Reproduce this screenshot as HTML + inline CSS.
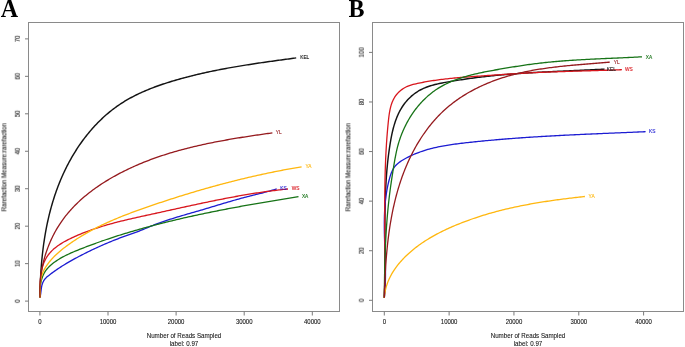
<!DOCTYPE html>
<html><head><meta charset="utf-8"><style>
html,body{margin:0;padding:0;background:#fff;width:685px;height:347px;overflow:hidden}
text{will-change:transform}
svg{display:block;will-change:transform}
.tk{font-family:"Liberation Sans",sans-serif;font-size:6.0px;fill:#111;stroke:#111;stroke-width:0.08px}
.ti{font-family:"Liberation Sans",sans-serif;font-size:6.2px;fill:#111;stroke:#111;stroke-width:0.07px}
.lb{font-family:"Liberation Sans",sans-serif;font-size:4.8px}
.pl{font-family:"Liberation Serif",serif;font-weight:bold;font-size:24px;fill:#000}
</style></head><body>
<svg width="685" height="347" viewBox="0 0 685 347">
<rect width="685" height="347" fill="#fff"/>
<text transform="translate(0.8,17.0) scale(1,1.04)" class="pl">A</text>
<text transform="translate(348.6,17.0) scale(1,1.04)" class="pl">B</text>
<rect x="28.5" y="22.5" width="311.0" height="289.0" fill="none" stroke="#8a8a8a" stroke-width="1"/>
<line x1="39.90" y1="311.5" x2="39.90" y2="315.5" stroke="#7a7a7a" stroke-width="1"/>
<text transform="translate(39.90,324.2) scale(1,1.2)" text-anchor="middle" class="tk">0</text>
<line x1="108.00" y1="311.5" x2="108.00" y2="315.5" stroke="#7a7a7a" stroke-width="1"/>
<text transform="translate(108.00,324.2) scale(1,1.2)" text-anchor="middle" class="tk">10000</text>
<line x1="176.10" y1="311.5" x2="176.10" y2="315.5" stroke="#7a7a7a" stroke-width="1"/>
<text transform="translate(176.10,324.2) scale(1,1.2)" text-anchor="middle" class="tk">20000</text>
<line x1="244.20" y1="311.5" x2="244.20" y2="315.5" stroke="#7a7a7a" stroke-width="1"/>
<text transform="translate(244.20,324.2) scale(1,1.2)" text-anchor="middle" class="tk">30000</text>
<line x1="312.30" y1="311.5" x2="312.30" y2="315.5" stroke="#7a7a7a" stroke-width="1"/>
<text transform="translate(312.30,324.2) scale(1,1.2)" text-anchor="middle" class="tk">40000</text>
<line x1="25.0" y1="301.10" x2="28.5" y2="301.10" stroke="#7a7a7a" stroke-width="1"/>
<text transform="translate(20.00,301.10) rotate(-90) scale(1,1.2)" x="0" y="0" text-anchor="middle" class="tk">0</text>
<line x1="25.0" y1="263.64" x2="28.5" y2="263.64" stroke="#7a7a7a" stroke-width="1"/>
<text transform="translate(20.00,263.64) rotate(-90) scale(1,1.2)" x="0" y="0" text-anchor="middle" class="tk">10</text>
<line x1="25.0" y1="226.18" x2="28.5" y2="226.18" stroke="#7a7a7a" stroke-width="1"/>
<text transform="translate(20.00,226.18) rotate(-90) scale(1,1.2)" x="0" y="0" text-anchor="middle" class="tk">20</text>
<line x1="25.0" y1="188.72" x2="28.5" y2="188.72" stroke="#7a7a7a" stroke-width="1"/>
<text transform="translate(20.00,188.72) rotate(-90) scale(1,1.2)" x="0" y="0" text-anchor="middle" class="tk">30</text>
<line x1="25.0" y1="151.26" x2="28.5" y2="151.26" stroke="#7a7a7a" stroke-width="1"/>
<text transform="translate(20.00,151.26) rotate(-90) scale(1,1.2)" x="0" y="0" text-anchor="middle" class="tk">40</text>
<line x1="25.0" y1="113.80" x2="28.5" y2="113.80" stroke="#7a7a7a" stroke-width="1"/>
<text transform="translate(20.00,113.80) rotate(-90) scale(1,1.2)" x="0" y="0" text-anchor="middle" class="tk">50</text>
<line x1="25.0" y1="76.34" x2="28.5" y2="76.34" stroke="#7a7a7a" stroke-width="1"/>
<text transform="translate(20.00,76.34) rotate(-90) scale(1,1.2)" x="0" y="0" text-anchor="middle" class="tk">60</text>
<line x1="25.0" y1="38.88" x2="28.5" y2="38.88" stroke="#7a7a7a" stroke-width="1"/>
<text transform="translate(20.00,38.88) rotate(-90) scale(1,1.2)" x="0" y="0" text-anchor="middle" class="tk">70</text>
<path d="M39.99 297.39 L40.00 295.88 L40.03 294.38 L40.05 292.87 L40.08 291.36 L40.12 289.85 L40.16 288.34 L40.20 286.84 L40.25 285.33 L40.30 283.82 L40.36 282.32 L40.42 280.81 L40.49 279.30 L40.56 277.80 L40.64 276.29 L40.72 274.78 L40.81 273.28 L40.90 271.77 L41.00 270.27 L41.11 268.76 L41.22 267.26 L41.33 265.76 L41.45 264.25 L41.58 262.75 L41.71 261.25 L41.85 259.75 L42.00 258.25 L42.15 256.75 L42.31 255.25 L42.47 253.75 L42.64 252.25 L42.82 250.75 L43.00 249.25 L43.19 247.76 L43.38 246.26 L43.58 244.77 L43.79 243.27 L44.01 241.78 L44.23 240.29 L44.46 238.80 L44.70 237.31 L44.94 235.82 L45.19 234.33 L45.45 232.85 L45.72 231.36 L45.99 229.88 L46.27 228.40 L46.56 226.92 L46.86 225.44 L47.16 223.96 L47.47 222.49 L47.79 221.01 L48.12 219.54 L48.46 218.07 L48.80 216.60 L49.15 215.14 L49.51 213.67 L49.88 212.21 L50.26 210.75 L50.65 209.29 L51.04 207.84 L51.44 206.38 L51.86 204.93 L52.28 203.48 L52.71 202.04 L53.15 200.60 L53.60 199.16 L54.05 197.72 L54.52 196.29 L55.00 194.85 L55.48 193.43 L55.98 192.00 L56.48 190.58 L56.99 189.16 L57.52 187.75 L58.05 186.34 L58.59 184.93 L59.15 183.53 L59.71 182.13 L60.28 180.73 L60.87 179.34 L61.46 177.96 L62.06 176.57 L62.67 175.20 L63.30 173.82 L63.93 172.45 L64.57 171.09 L65.22 169.73 L65.89 168.37 L66.56 167.02 L67.24 165.68 L67.94 164.34 L68.64 163.01 L69.36 161.68 L70.08 160.36 L70.81 159.04 L71.56 157.73 L72.31 156.42 L73.08 155.12 L73.85 153.83 L74.64 152.54 L75.44 151.26 L76.24 149.99 L77.06 148.72 L77.89 147.46 L78.73 146.21 L79.58 144.96 L80.44 143.72 L81.31 142.49 L82.19 141.26 L83.08 140.05 L83.98 138.84 L84.89 137.64 L85.81 136.44 L86.75 135.26 L87.69 134.08 L88.65 132.92 L89.61 131.76 L90.59 130.61 L91.58 129.47 L92.57 128.34 L93.58 127.22 L94.60 126.10 L95.63 125.00 L96.67 123.91 L97.72 122.83 L98.78 121.76 L99.86 120.70 L100.94 119.65 L102.03 118.61 L103.14 117.58 L104.25 116.57 L105.38 115.56 L106.51 114.57 L107.66 113.59 L108.81 112.62 L109.98 111.67 L111.16 110.72 L112.34 109.79 L113.54 108.87 L114.75 107.97 L115.96 107.08 L117.19 106.20 L118.43 105.34 L119.67 104.49 L120.93 103.66 L122.20 102.83 L123.47 102.03 L124.75 101.24 L126.05 100.46 L127.35 99.70 L128.66 98.95 L129.97 98.21 L131.30 97.49 L132.63 96.78 L133.97 96.09 L135.31 95.41 L136.66 94.74 L138.02 94.08 L139.38 93.43 L140.75 92.80 L142.13 92.18 L143.50 91.57 L144.89 90.97 L146.28 90.38 L147.67 89.80 L149.07 89.23 L150.47 88.67 L151.87 88.12 L153.28 87.58 L154.69 87.05 L156.11 86.53 L157.52 86.02 L158.95 85.51 L160.37 85.02 L161.80 84.53 L163.23 84.05 L164.66 83.58 L166.09 83.11 L167.53 82.65 L168.97 82.20 L170.41 81.75 L171.85 81.31 L173.30 80.88 L174.74 80.45 L176.19 80.03 L177.64 79.61 L179.09 79.20 L180.54 78.79 L182.00 78.39 L183.45 78.00 L184.91 77.60 L186.36 77.22 L187.82 76.83 L189.28 76.46 L190.74 76.08 L192.21 75.72 L193.67 75.35 L195.14 75.00 L196.60 74.64 L198.07 74.29 L199.54 73.95 L201.01 73.61 L202.48 73.27 L203.95 72.94 L205.42 72.61 L206.89 72.29 L208.37 71.97 L209.84 71.65 L211.32 71.34 L212.79 71.04 L214.27 70.73 L215.75 70.43 L217.23 70.14 L218.71 69.84 L220.19 69.56 L221.67 69.27 L223.15 68.99 L224.63 68.71 L226.11 68.44 L227.60 68.16 L229.08 67.90 L230.57 67.63 L232.05 67.37 L233.54 67.11 L235.02 66.85 L236.51 66.60 L238.00 66.35 L239.48 66.10 L240.97 65.85 L242.46 65.61 L243.95 65.37 L245.44 65.13 L246.93 64.89 L248.42 64.66 L249.91 64.43 L251.40 64.20 L252.89 63.97 L254.38 63.75 L255.87 63.52 L257.36 63.30 L258.86 63.08 L260.35 62.86 L261.84 62.64 L263.33 62.43 L264.83 62.21 L266.32 62.00 L267.81 61.79 L269.31 61.58 L270.80 61.37 L272.29 61.16 L273.79 60.95 L275.28 60.75 L276.77 60.54 L278.27 60.33 L279.76 60.13 L281.26 59.93 L282.75 59.72 L284.25 59.52 L285.74 59.32 L287.23 59.11 L288.73 58.91 L290.22 58.71 L291.72 58.50 L293.21 58.30 L294.71 58.10 L296.20 57.90" fill="none" stroke="#141414" stroke-width="1.45" stroke-linejoin="round" stroke-linecap="butt"/>
<path d="M39.99 297.40 L40.33 295.92 L40.58 294.42 L40.78 292.92 L40.96 291.42 L41.14 289.91 L41.33 288.41 L41.58 286.92 L41.89 285.44 L42.31 283.98 L42.85 282.56 L43.51 281.20 L44.30 279.91 L45.22 278.71 L46.25 277.60 L47.38 276.59 L48.56 275.64 L49.75 274.70 L50.95 273.78 L52.17 272.88 L53.39 271.98 L54.62 271.10 L55.86 270.23 L57.11 269.37 L58.36 268.52 L59.63 267.69 L60.90 266.86 L62.18 266.05 L63.46 265.25 L64.75 264.45 L66.05 263.67 L67.35 262.89 L68.66 262.13 L69.97 261.37 L71.28 260.62 L72.61 259.88 L73.93 259.15 L75.26 258.43 L76.60 257.71 L77.93 257.00 L79.27 256.29 L80.62 255.59 L81.96 254.90 L83.31 254.21 L84.66 253.52 L86.02 252.84 L87.37 252.17 L88.73 251.50 L90.10 250.84 L91.46 250.18 L92.83 249.53 L94.20 248.89 L95.57 248.25 L96.95 247.61 L98.32 246.98 L99.70 246.36 L101.09 245.74 L102.47 245.13 L103.86 244.52 L105.25 243.92 L106.64 243.32 L108.04 242.73 L109.44 242.15 L110.84 241.57 L112.24 241.00 L113.64 240.43 L115.05 239.87 L116.46 239.32 L117.87 238.77 L119.29 238.23 L120.70 237.69 L122.12 237.17 L123.55 236.64 L124.97 236.13 L126.40 235.62 L127.82 235.11 L129.25 234.61 L130.68 234.11 L132.11 233.61 L133.54 233.10 L134.97 232.59 L136.39 232.08 L137.81 231.56 L139.23 231.02 L140.64 230.48 L142.05 229.92 L143.45 229.35 L144.85 228.76 L146.25 228.17 L147.64 227.57 L149.03 226.98 L150.43 226.40 L151.83 225.82 L153.24 225.26 L154.65 224.71 L156.07 224.17 L157.48 223.64 L158.91 223.12 L160.33 222.60 L161.76 222.10 L163.19 221.60 L164.62 221.11 L166.06 220.63 L167.50 220.15 L168.94 219.68 L170.38 219.22 L171.82 218.76 L173.27 218.31 L174.71 217.86 L176.16 217.41 L177.61 216.97 L179.06 216.54 L180.51 216.10 L181.97 215.67 L183.42 215.25 L184.87 214.82 L186.33 214.40 L187.78 213.97 L189.24 213.55 L190.69 213.13 L192.15 212.71 L193.60 212.29 L195.06 211.87 L196.51 211.45 L197.97 211.03 L199.42 210.61 L200.88 210.19 L202.33 209.77 L203.79 209.34 L205.24 208.91 L206.69 208.48 L208.14 208.05 L209.59 207.61 L211.05 207.18 L212.50 206.74 L213.95 206.30 L215.40 205.87 L216.85 205.43 L218.30 204.99 L219.75 204.55 L221.20 204.11 L222.65 203.68 L224.10 203.24 L225.55 202.81 L227.00 202.37 L228.45 201.94 L229.91 201.52 L231.36 201.09 L232.81 200.67 L234.27 200.25 L235.72 199.83 L237.18 199.42 L238.64 199.01 L240.10 198.60 L241.56 198.20 L243.02 197.81 L244.49 197.42 L245.95 197.04 L247.42 196.66 L248.89 196.29 L250.36 195.92 L251.83 195.56 L253.30 195.19 L254.77 194.83 L256.24 194.47 L257.71 194.10 L259.18 193.74 L260.65 193.37 L262.12 193.00 L263.59 192.62 L265.05 192.24 L266.51 191.85 L267.98 191.45 L269.44 191.05 L270.90 190.64 L272.35 190.22 L273.80 189.79 L275.25 189.35 L276.70 188.90" fill="none" stroke="#1c1cd2" stroke-width="1.3" stroke-linejoin="round" stroke-linecap="butt"/>
<path d="M40.01 297.40 L40.05 295.89 L40.07 294.39 L40.09 292.88 L40.10 291.37 L40.12 289.86 L40.14 288.35 L40.16 286.84 L40.19 285.34 L40.23 283.83 L40.29 282.32 L40.37 280.81 L40.46 279.31 L40.58 277.80 L40.72 276.30 L40.89 274.80 L41.10 273.31 L41.34 271.82 L41.62 270.34 L41.95 268.87 L42.32 267.40 L42.74 265.96 L43.22 264.53 L43.75 263.11 L44.33 261.72 L44.97 260.36 L45.67 259.02 L46.42 257.71 L47.22 256.43 L48.08 255.19 L48.99 253.99 L49.95 252.83 L50.97 251.71 L52.02 250.64 L53.11 249.60 L54.25 248.60 L55.41 247.64 L56.60 246.71 L57.82 245.82 L59.06 244.96 L60.32 244.13 L61.59 243.33 L62.89 242.56 L64.20 241.80 L65.52 241.08 L66.85 240.37 L68.19 239.68 L69.54 239.00 L70.89 238.34 L72.25 237.69 L73.62 237.05 L74.99 236.43 L76.37 235.81 L77.75 235.21 L79.14 234.62 L80.53 234.03 L81.93 233.46 L83.33 232.90 L84.73 232.35 L86.14 231.81 L87.55 231.27 L88.96 230.75 L90.38 230.24 L91.80 229.73 L93.23 229.24 L94.66 228.75 L96.09 228.27 L97.52 227.80 L98.96 227.34 L100.40 226.89 L101.84 226.44 L103.28 226.00 L104.73 225.57 L106.17 225.15 L107.62 224.73 L109.07 224.32 L110.53 223.91 L111.98 223.51 L113.44 223.12 L114.90 222.74 L116.36 222.35 L117.82 221.98 L119.28 221.61 L120.74 221.24 L122.21 220.88 L123.67 220.52 L125.14 220.17 L126.60 219.82 L128.07 219.47 L129.54 219.13 L131.01 218.79 L132.48 218.45 L133.95 218.12 L135.42 217.79 L136.90 217.46 L138.37 217.13 L139.84 216.80 L141.31 216.48 L142.79 216.15 L144.26 215.83 L145.73 215.51 L147.21 215.19 L148.68 214.87 L150.16 214.54 L151.63 214.22 L153.10 213.90 L154.58 213.58 L156.05 213.26 L157.52 212.93 L159.00 212.61 L160.47 212.28 L161.94 211.96 L163.41 211.63 L164.89 211.31 L166.36 210.98 L167.83 210.66 L169.31 210.33 L170.78 210.01 L172.25 209.68 L173.72 209.36 L175.20 209.03 L176.67 208.70 L178.14 208.38 L179.62 208.06 L181.09 207.73 L182.56 207.41 L184.04 207.08 L185.51 206.76 L186.98 206.44 L188.46 206.12 L189.93 205.80 L191.40 205.48 L192.88 205.16 L194.35 204.84 L195.83 204.52 L197.30 204.20 L198.78 203.89 L200.25 203.57 L201.73 203.26 L203.20 202.95 L204.68 202.64 L206.16 202.33 L207.63 202.02 L209.11 201.71 L210.59 201.41 L212.07 201.11 L213.54 200.80 L215.02 200.50 L216.50 200.20 L217.98 199.91 L219.46 199.61 L220.94 199.32 L222.42 199.03 L223.90 198.74 L225.38 198.45 L226.86 198.17 L228.34 197.88 L229.82 197.60 L231.31 197.32 L232.79 197.05 L234.27 196.78 L235.76 196.50 L237.24 196.24 L238.72 195.97 L240.21 195.71 L241.70 195.44 L243.18 195.19 L244.67 194.93 L246.16 194.68 L247.64 194.43 L249.13 194.18 L250.62 193.94 L252.11 193.70 L253.60 193.46 L255.09 193.23 L256.58 193.00 L258.07 192.77 L259.56 192.55 L261.05 192.32 L262.55 192.11 L264.04 191.89 L265.53 191.68 L267.03 191.48 L268.52 191.28 L270.02 191.08 L271.51 190.88 L273.01 190.69 L274.51 190.50 L276.00 190.32 L277.50 190.14 L279.00 189.97 L280.50 189.80 L282.00 189.63 L283.50 189.47 L285.00 189.31 L286.50 189.16 L288.00 189.01" fill="none" stroke="#d8161d" stroke-width="1.3" stroke-linejoin="round" stroke-linecap="butt"/>
<path d="M40.01 297.40 L39.93 295.89 L39.88 294.38 L39.87 292.86 L39.90 291.35 L39.96 289.83 L40.06 288.32 L40.21 286.81 L40.40 285.31 L40.63 283.81 L40.91 282.32 L41.25 280.84 L41.65 279.38 L42.10 277.94 L42.62 276.51 L43.20 275.11 L43.86 273.75 L44.59 272.42 L45.39 271.14 L46.27 269.90 L47.22 268.72 L48.22 267.59 L49.28 266.50 L50.39 265.46 L51.53 264.47 L52.70 263.51 L53.91 262.59 L55.13 261.70 L56.38 260.84 L57.65 260.01 L58.93 259.21 L60.23 258.43 L61.55 257.67 L62.88 256.94 L64.21 256.23 L65.56 255.54 L66.92 254.87 L68.29 254.22 L69.67 253.58 L71.05 252.96 L72.44 252.35 L73.83 251.76 L75.23 251.17 L76.63 250.60 L78.03 250.03 L79.44 249.46 L80.85 248.90 L82.26 248.35 L83.67 247.80 L85.08 247.25 L86.50 246.71 L87.91 246.17 L89.33 245.63 L90.75 245.10 L92.17 244.57 L93.59 244.05 L95.02 243.53 L96.44 243.01 L97.87 242.50 L99.29 241.99 L100.72 241.49 L102.15 240.98 L103.58 240.49 L105.02 239.99 L106.45 239.50 L107.89 239.02 L109.32 238.53 L110.76 238.05 L112.20 237.58 L113.64 237.11 L115.08 236.64 L116.52 236.17 L117.97 235.71 L119.41 235.25 L120.86 234.80 L122.30 234.35 L123.75 233.90 L125.20 233.45 L126.65 233.01 L128.10 232.57 L129.55 232.14 L131.00 231.71 L132.46 231.28 L133.91 230.85 L135.37 230.43 L136.82 230.01 L138.28 229.60 L139.74 229.18 L141.20 228.77 L142.66 228.36 L144.12 227.96 L145.58 227.56 L147.04 227.16 L148.50 226.76 L149.96 226.37 L151.43 225.97 L152.89 225.59 L154.36 225.20 L155.82 224.82 L157.29 224.43 L158.76 224.06 L160.23 223.68 L161.70 223.31 L163.16 222.94 L164.63 222.57 L166.11 222.20 L167.58 221.84 L169.05 221.48 L170.52 221.12 L171.99 220.76 L173.47 220.41 L174.94 220.06 L176.41 219.71 L177.89 219.36 L179.37 219.01 L180.84 218.67 L182.32 218.33 L183.80 217.99 L185.27 217.66 L186.75 217.32 L188.23 216.99 L189.71 216.66 L191.19 216.33 L192.67 216.00 L194.15 215.68 L195.63 215.36 L197.11 215.04 L198.59 214.72 L200.07 214.40 L201.56 214.09 L203.04 213.77 L204.52 213.46 L206.00 213.15 L207.49 212.85 L208.97 212.54 L210.46 212.24 L211.94 211.93 L213.43 211.63 L214.91 211.33 L216.40 211.04 L217.89 210.74 L219.37 210.45 L220.86 210.16 L222.35 209.86 L223.83 209.58 L225.32 209.29 L226.81 209.00 L228.30 208.72 L229.79 208.43 L231.28 208.15 L232.77 207.87 L234.25 207.59 L235.74 207.32 L237.23 207.04 L238.72 206.77 L240.22 206.49 L241.71 206.22 L243.20 205.95 L244.69 205.68 L246.18 205.41 L247.67 205.15 L249.16 204.88 L250.66 204.62 L252.15 204.35 L253.64 204.09 L255.13 203.83 L256.63 203.57 L258.12 203.31 L259.61 203.05 L261.11 202.80 L262.60 202.54 L264.09 202.29 L265.59 202.04 L267.08 201.78 L268.58 201.53 L270.07 201.28 L271.57 201.03 L273.06 200.79 L274.56 200.54 L276.05 200.29 L277.55 200.05 L279.04 199.80 L280.54 199.56 L282.03 199.32 L283.53 199.07 L285.03 198.83 L286.52 198.59 L288.02 198.35 L289.52 198.11 L291.01 197.88 L292.51 197.64 L294.01 197.40 L295.50 197.17 L297.00 196.93 L298.50 196.70" fill="none" stroke="#177317" stroke-width="1.3" stroke-linejoin="round" stroke-linecap="butt"/>
<path d="M40.01 297.40 L40.05 295.89 L40.07 294.39 L40.09 292.88 L40.11 291.37 L40.13 289.86 L40.17 288.35 L40.22 286.84 L40.29 285.33 L40.39 283.83 L40.53 282.33 L40.71 280.83 L40.93 279.34 L41.21 277.85 L41.55 276.38 L41.96 274.93 L42.45 273.50 L43.00 272.10 L43.63 270.73 L44.31 269.38 L45.05 268.07 L45.84 266.78 L46.67 265.52 L47.54 264.28 L48.44 263.07 L49.37 261.89 L50.33 260.72 L51.32 259.58 L52.33 258.46 L53.37 257.37 L54.43 256.29 L55.50 255.24 L56.60 254.20 L57.72 253.18 L58.85 252.19 L60.00 251.20 L61.16 250.24 L62.33 249.29 L63.51 248.35 L64.71 247.43 L65.91 246.52 L67.12 245.62 L68.34 244.73 L69.57 243.86 L70.80 242.99 L72.04 242.13 L73.29 241.28 L74.55 240.44 L75.81 239.61 L77.08 238.80 L78.35 237.99 L79.63 237.19 L80.91 236.40 L82.21 235.62 L83.50 234.85 L84.81 234.08 L86.11 233.33 L87.43 232.59 L88.74 231.85 L90.07 231.12 L91.39 230.41 L92.73 229.70 L94.06 229.00 L95.40 228.30 L96.75 227.62 L98.10 226.94 L99.45 226.27 L100.81 225.61 L102.17 224.96 L103.53 224.31 L104.90 223.67 L106.27 223.04 L107.64 222.42 L109.02 221.80 L110.40 221.19 L111.78 220.59 L113.17 219.99 L114.55 219.39 L115.94 218.81 L117.34 218.23 L118.73 217.65 L120.13 217.09 L121.53 216.52 L122.93 215.96 L124.34 215.41 L125.74 214.86 L127.15 214.32 L128.56 213.78 L129.97 213.24 L131.38 212.71 L132.80 212.19 L134.21 211.66 L135.63 211.14 L137.05 210.63 L138.47 210.12 L139.89 209.61 L141.31 209.10 L142.73 208.60 L144.15 208.10 L145.58 207.60 L147.00 207.10 L148.43 206.61 L149.86 206.12 L151.28 205.63 L152.71 205.14 L154.14 204.66 L155.57 204.17 L157.00 203.69 L158.43 203.21 L159.86 202.73 L161.29 202.26 L162.73 201.78 L164.16 201.31 L165.59 200.84 L167.03 200.37 L168.46 199.90 L169.90 199.44 L171.33 198.97 L172.77 198.51 L174.21 198.05 L175.65 197.60 L177.08 197.14 L178.52 196.69 L179.96 196.24 L181.40 195.79 L182.85 195.34 L184.29 194.89 L185.73 194.45 L187.17 194.01 L188.62 193.57 L190.06 193.14 L191.51 192.70 L192.95 192.27 L194.40 191.84 L195.85 191.41 L197.29 190.98 L198.74 190.56 L200.19 190.14 L201.64 189.72 L203.09 189.30 L204.54 188.88 L205.99 188.47 L207.44 188.06 L208.90 187.65 L210.35 187.25 L211.80 186.84 L213.26 186.44 L214.71 186.04 L216.17 185.64 L217.62 185.25 L219.08 184.85 L220.54 184.46 L222.00 184.07 L223.46 183.69 L224.92 183.30 L226.38 182.92 L227.84 182.54 L229.30 182.17 L230.76 181.79 L232.22 181.42 L233.68 181.05 L235.15 180.68 L236.61 180.32 L238.08 179.96 L239.54 179.60 L241.01 179.24 L242.48 178.88 L243.94 178.53 L245.41 178.18 L246.88 177.83 L248.35 177.49 L249.82 177.15 L251.29 176.81 L252.76 176.47 L254.23 176.13 L255.70 175.80 L257.17 175.47 L258.65 175.14 L260.12 174.82 L261.60 174.50 L263.07 174.18 L264.55 173.86 L266.02 173.55 L267.50 173.23 L268.97 172.93 L270.45 172.62 L271.93 172.32 L273.41 172.01 L274.89 171.72 L276.37 171.42 L277.85 171.13 L279.33 170.84 L280.81 170.55 L282.29 170.26 L283.77 169.98 L285.26 169.70 L286.74 169.43 L288.22 169.15 L289.71 168.88 L291.19 168.61 L292.68 168.35 L294.17 168.08 L295.65 167.82 L297.14 167.57 L298.63 167.31 L300.11 167.06 L301.60 166.81" fill="none" stroke="#ffb70f" stroke-width="1.3" stroke-linejoin="round" stroke-linecap="butt"/>
<path d="M40.01 297.40 L39.95 295.89 L39.90 294.38 L39.87 292.88 L39.86 291.37 L39.87 289.86 L39.90 288.35 L39.94 286.84 L40.01 285.33 L40.09 283.83 L40.20 282.32 L40.32 280.82 L40.46 279.32 L40.62 277.82 L40.79 276.32 L40.99 274.82 L41.20 273.33 L41.43 271.84 L41.68 270.35 L41.95 268.86 L42.23 267.38 L42.53 265.90 L42.85 264.43 L43.19 262.96 L43.55 261.49 L43.92 260.03 L44.31 258.57 L44.72 257.12 L45.14 255.67 L45.58 254.23 L46.04 252.79 L46.52 251.36 L47.02 249.94 L47.53 248.52 L48.06 247.11 L48.60 245.70 L49.17 244.30 L49.75 242.91 L50.34 241.52 L50.96 240.14 L51.59 238.77 L52.24 237.41 L52.90 236.06 L53.59 234.71 L54.29 233.37 L55.00 232.05 L55.73 230.73 L56.48 229.42 L57.25 228.12 L58.03 226.83 L58.84 225.55 L59.65 224.28 L60.49 223.03 L61.34 221.78 L62.20 220.54 L63.09 219.32 L63.99 218.11 L64.90 216.91 L65.83 215.72 L66.78 214.55 L67.74 213.38 L68.71 212.23 L69.70 211.09 L70.70 209.96 L71.71 208.85 L72.74 207.74 L73.78 206.65 L74.84 205.57 L75.90 204.50 L76.98 203.44 L78.06 202.40 L79.16 201.36 L80.27 200.34 L81.39 199.33 L82.52 198.33 L83.66 197.34 L84.82 196.37 L85.97 195.40 L87.14 194.45 L88.32 193.51 L89.51 192.57 L90.70 191.65 L91.91 190.74 L93.12 189.84 L94.34 188.95 L95.56 188.07 L96.79 187.20 L98.04 186.35 L99.28 185.50 L100.54 184.66 L101.80 183.83 L103.06 183.01 L104.34 182.20 L105.62 181.40 L106.90 180.61 L108.19 179.83 L109.49 179.06 L110.79 178.29 L112.10 177.54 L113.41 176.80 L114.73 176.06 L116.05 175.33 L117.37 174.61 L118.70 173.90 L120.04 173.20 L121.38 172.50 L122.72 171.81 L124.07 171.14 L125.42 170.47 L126.78 169.80 L128.14 169.15 L129.50 168.50 L130.87 167.87 L132.24 167.23 L133.61 166.61 L134.99 166.00 L136.37 165.39 L137.75 164.79 L139.14 164.20 L140.53 163.62 L141.93 163.04 L143.32 162.47 L144.72 161.91 L146.13 161.35 L147.53 160.81 L148.94 160.27 L150.35 159.73 L151.77 159.21 L153.19 158.69 L154.60 158.18 L156.03 157.67 L157.45 157.17 L158.88 156.68 L160.31 156.20 L161.74 155.72 L163.17 155.25 L164.60 154.78 L166.04 154.32 L167.48 153.87 L168.92 153.42 L170.36 152.98 L171.81 152.55 L173.26 152.12 L174.70 151.70 L176.15 151.28 L177.61 150.87 L179.06 150.46 L180.51 150.06 L181.97 149.67 L183.43 149.28 L184.89 148.90 L186.35 148.52 L187.81 148.14 L189.27 147.78 L190.74 147.41 L192.20 147.05 L193.67 146.70 L195.14 146.35 L196.61 146.01 L198.08 145.67 L199.55 145.34 L201.02 145.01 L202.49 144.68 L203.97 144.36 L205.44 144.04 L206.92 143.73 L208.39 143.42 L209.87 143.11 L211.35 142.81 L212.83 142.52 L214.31 142.22 L215.79 141.93 L217.27 141.65 L218.75 141.36 L220.24 141.09 L221.72 140.81 L223.20 140.54 L224.69 140.27 L226.17 140.00 L227.66 139.74 L229.14 139.48 L230.63 139.22 L232.12 138.97 L233.61 138.72 L235.09 138.47 L236.58 138.22 L238.07 137.98 L239.56 137.74 L241.05 137.50 L242.54 137.26 L244.03 137.02 L245.52 136.79 L247.01 136.56 L248.50 136.33 L250.00 136.11 L251.49 135.88 L252.98 135.66 L254.47 135.44 L255.96 135.22 L257.46 135.00 L258.95 134.78 L260.44 134.57 L261.94 134.35 L263.43 134.14 L264.92 133.93 L266.42 133.72 L267.91 133.51 L269.41 133.30 L270.90 133.09 L272.40 132.88" fill="none" stroke="#951a1e" stroke-width="1.3" stroke-linejoin="round" stroke-linecap="butt"/>
<text x="300.20" y="59.00" class="lb" fill="#141414" stroke="#141414" stroke-width="0.12">KEL</text>
<text x="275.80" y="134.00" class="lb" fill="#951a1e" stroke="#951a1e" stroke-width="0.12">YL</text>
<text x="305.50" y="167.60" class="lb" fill="#ffb70f" stroke="#ffb70f" stroke-width="0.12">YA</text>
<text x="280.30" y="189.70" class="lb" fill="#1c1cd2" stroke="#1c1cd2" stroke-width="0.12">KS</text>
<text x="291.80" y="189.90" class="lb" fill="#d8161d" stroke="#d8161d" stroke-width="0.12">WS</text>
<text x="301.90" y="197.60" class="lb" fill="#177317" stroke="#177317" stroke-width="0.12">XA</text>
<text transform="translate(184.00,338.3) scale(1,1.1)" text-anchor="middle" class="ti">Number of Reads Sampled</text>
<text transform="translate(184.00,345.7) scale(1,1.1)" text-anchor="middle" class="ti">label: 0.97</text>
<text transform="translate(6.30,167.30) rotate(-90) scale(1,1.15)" text-anchor="middle" class="ti">Rarefaction Measure:rarefaction</text>
<rect x="372.5" y="22.5" width="311.0" height="289.0" fill="none" stroke="#8a8a8a" stroke-width="1"/>
<line x1="384.30" y1="311.5" x2="384.30" y2="315.5" stroke="#7a7a7a" stroke-width="1"/>
<text transform="translate(384.30,324.2) scale(1,1.2)" text-anchor="middle" class="tk">0</text>
<line x1="449.12" y1="311.5" x2="449.12" y2="315.5" stroke="#7a7a7a" stroke-width="1"/>
<text transform="translate(449.12,324.2) scale(1,1.2)" text-anchor="middle" class="tk">10000</text>
<line x1="513.95" y1="311.5" x2="513.95" y2="315.5" stroke="#7a7a7a" stroke-width="1"/>
<text transform="translate(513.95,324.2) scale(1,1.2)" text-anchor="middle" class="tk">20000</text>
<line x1="578.78" y1="311.5" x2="578.78" y2="315.5" stroke="#7a7a7a" stroke-width="1"/>
<text transform="translate(578.78,324.2) scale(1,1.2)" text-anchor="middle" class="tk">30000</text>
<line x1="643.60" y1="311.5" x2="643.60" y2="315.5" stroke="#7a7a7a" stroke-width="1"/>
<text transform="translate(643.60,324.2) scale(1,1.2)" text-anchor="middle" class="tk">40000</text>
<line x1="369.0" y1="300.30" x2="372.5" y2="300.30" stroke="#7a7a7a" stroke-width="1"/>
<text transform="translate(364.00,300.30) rotate(-90) scale(1,1.2)" x="0" y="0" text-anchor="middle" class="tk">0</text>
<line x1="369.0" y1="250.72" x2="372.5" y2="250.72" stroke="#7a7a7a" stroke-width="1"/>
<text transform="translate(364.00,250.72) rotate(-90) scale(1,1.2)" x="0" y="0" text-anchor="middle" class="tk">20</text>
<line x1="369.0" y1="201.14" x2="372.5" y2="201.14" stroke="#7a7a7a" stroke-width="1"/>
<text transform="translate(364.00,201.14) rotate(-90) scale(1,1.2)" x="0" y="0" text-anchor="middle" class="tk">40</text>
<line x1="369.0" y1="151.56" x2="372.5" y2="151.56" stroke="#7a7a7a" stroke-width="1"/>
<text transform="translate(364.00,151.56) rotate(-90) scale(1,1.2)" x="0" y="0" text-anchor="middle" class="tk">60</text>
<line x1="369.0" y1="101.98" x2="372.5" y2="101.98" stroke="#7a7a7a" stroke-width="1"/>
<text transform="translate(364.00,101.98) rotate(-90) scale(1,1.2)" x="0" y="0" text-anchor="middle" class="tk">80</text>
<line x1="369.0" y1="52.40" x2="372.5" y2="52.40" stroke="#7a7a7a" stroke-width="1"/>
<text transform="translate(364.00,52.40) rotate(-90) scale(1,1.2)" x="0" y="0" text-anchor="middle" class="tk">100</text>
<path d="M384.30 297.80 L384.36 296.29 L384.42 294.78 L384.48 293.27 L384.53 291.77 L384.58 290.26 L384.63 288.75 L384.67 287.24 L384.71 285.73 L384.74 284.22 L384.78 282.71 L384.81 281.20 L384.84 279.69 L384.86 278.18 L384.88 276.67 L384.90 275.16 L384.92 273.65 L384.94 272.14 L384.95 270.63 L384.96 269.12 L384.97 267.61 L384.98 266.10 L384.98 264.59 L384.99 263.08 L384.99 261.57 L384.99 260.06 L384.99 258.56 L384.99 257.05 L384.99 255.54 L384.99 254.03 L384.99 252.52 L384.98 251.01 L384.98 249.50 L384.98 247.99 L384.97 246.48 L384.97 244.97 L384.96 243.46 L384.96 241.95 L384.95 240.44 L384.95 238.93 L384.94 237.42 L384.94 235.91 L384.93 234.40 L384.93 232.89 L384.93 231.38 L384.93 229.87 L384.93 228.36 L384.93 226.85 L384.93 225.34 L384.94 223.83 L384.94 222.32 L384.95 220.81 L384.96 219.30 L384.97 217.79 L384.98 216.28 L385.00 214.77 L385.02 213.26 L385.04 211.75 L385.06 210.24 L385.08 208.73 L385.11 207.22 L385.14 205.71 L385.17 204.20 L385.21 202.70 L385.24 201.19 L385.29 199.68 L385.33 198.17 L385.38 196.66 L385.43 195.15 L385.49 193.64 L385.55 192.13 L385.61 190.62 L385.68 189.12 L385.75 187.61 L385.82 186.10 L385.90 184.59 L385.99 183.08 L386.08 181.58 L386.17 180.07 L386.27 178.56 L386.37 177.06 L386.48 175.55 L386.59 174.05 L386.71 172.54 L386.83 171.04 L386.96 169.53 L387.10 168.03 L387.24 166.53 L387.38 165.02 L387.53 163.52 L387.69 162.02 L387.85 160.52 L388.02 159.02 L388.20 157.52 L388.38 156.02 L388.57 154.52 L388.77 153.02 L388.97 151.53 L389.18 150.03 L389.39 148.54 L389.61 147.04 L389.84 145.55 L390.08 144.06 L390.32 142.57 L390.58 141.08 L390.84 139.60 L391.11 138.11 L391.40 136.63 L391.70 135.15 L392.01 133.67 L392.34 132.20 L392.68 130.73 L393.04 129.26 L393.42 127.80 L393.82 126.35 L394.25 124.90 L394.69 123.45 L395.15 122.02 L395.64 120.59 L396.15 119.17 L396.69 117.76 L397.26 116.36 L397.86 114.97 L398.48 113.60 L399.14 112.24 L399.84 110.90 L400.57 109.58 L401.33 108.28 L402.14 107.00 L402.97 105.74 L403.85 104.51 L404.76 103.30 L405.70 102.12 L406.67 100.97 L407.68 99.85 L408.72 98.76 L409.80 97.69 L410.90 96.67 L412.04 95.67 L413.20 94.71 L414.39 93.78 L415.62 92.90 L416.87 92.05 L418.14 91.24 L419.44 90.48 L420.77 89.76 L422.12 89.08 L423.49 88.44 L424.87 87.84 L426.27 87.28 L427.69 86.75 L429.11 86.26 L430.55 85.79 L432.00 85.36 L433.45 84.95 L434.91 84.57 L436.38 84.20 L437.85 83.86 L439.32 83.54 L440.80 83.23 L442.28 82.93 L443.76 82.65 L445.25 82.37 L446.73 82.11 L448.22 81.85 L449.71 81.59 L451.20 81.34 L452.68 81.09 L454.17 80.84 L455.66 80.60 L457.16 80.36 L458.65 80.12 L460.14 79.89 L461.63 79.66 L463.12 79.44 L464.62 79.22 L466.11 79.00 L467.61 78.79 L469.10 78.58 L470.60 78.37 L472.09 78.17 L473.59 77.97 L475.09 77.78 L476.58 77.58 L478.08 77.39 L479.58 77.21 L481.08 77.03 L482.58 76.85 L484.08 76.68 L485.58 76.51 L487.08 76.34 L488.58 76.17 L490.08 76.01 L491.58 75.86 L493.08 75.70 L494.59 75.55 L496.09 75.40 L497.59 75.26 L499.10 75.12 L500.60 74.98 L502.10 74.84 L503.61 74.71 L505.11 74.58 L506.62 74.46 L508.12 74.33 L509.62 74.21 L511.13 74.09 L512.64 73.97 L514.14 73.86 L515.65 73.75 L517.15 73.64 L518.66 73.53 L520.16 73.43 L521.67 73.33 L523.18 73.23 L524.68 73.13 L526.19 73.03 L527.70 72.94 L529.20 72.84 L530.71 72.75 L532.22 72.66 L533.73 72.57 L535.23 72.49 L536.74 72.40 L538.25 72.32 L539.76 72.24 L541.26 72.16 L542.77 72.08 L544.28 72.00 L545.79 71.92 L547.29 71.85 L548.80 71.77 L550.31 71.70 L551.82 71.62 L553.33 71.55 L554.83 71.48 L556.34 71.41 L557.85 71.34 L559.36 71.27 L560.87 71.20 L562.37 71.13 L563.88 71.06 L565.39 70.99 L566.90 70.92 L568.41 70.85 L569.92 70.78 L571.42 70.72 L572.93 70.65 L574.44 70.58 L575.95 70.51 L577.46 70.44 L578.97 70.37 L580.47 70.30 L581.98 70.23 L583.49 70.16 L585.00 70.09 L586.51 70.02 L588.01 69.95 L589.52 69.88 L591.03 69.81 L592.54 69.73 L594.05 69.66 L595.55 69.58 L597.06 69.50 L598.57 69.42 L600.08 69.35 L601.58 69.26 L603.09 69.18 L604.60 69.10" fill="none" stroke="#141414" stroke-width="1.45" stroke-linejoin="round" stroke-linecap="butt"/>
<path d="M384.30 297.80 L384.46 296.30 L384.60 294.80 L384.73 293.29 L384.85 291.79 L384.96 290.28 L385.05 288.78 L385.14 287.27 L385.21 285.76 L385.27 284.26 L385.33 282.75 L385.37 281.24 L385.41 279.73 L385.44 278.22 L385.46 276.71 L385.47 275.20 L385.47 273.70 L385.47 272.19 L385.46 270.68 L385.45 269.17 L385.43 267.66 L385.40 266.15 L385.37 264.64 L385.34 263.13 L385.30 261.62 L385.26 260.12 L385.21 258.61 L385.17 257.10 L385.12 255.59 L385.07 254.08 L385.02 252.57 L384.96 251.07 L384.91 249.56 L384.86 248.05 L384.80 246.54 L384.75 245.03 L384.70 243.53 L384.65 242.02 L384.60 240.51 L384.56 239.00 L384.51 237.49 L384.47 235.98 L384.44 234.48 L384.40 232.97 L384.38 231.46 L384.35 229.95 L384.34 228.44 L384.32 226.93 L384.32 225.42 L384.32 223.91 L384.32 222.40 L384.34 220.90 L384.36 219.39 L384.39 217.88 L384.43 216.37 L384.48 214.86 L384.54 213.35 L384.60 211.85 L384.68 210.34 L384.77 208.83 L384.87 207.33 L384.98 205.82 L385.10 204.32 L385.23 202.81 L385.38 201.31 L385.54 199.81 L385.72 198.31 L385.90 196.82 L386.11 195.32 L386.32 193.83 L386.55 192.34 L386.80 190.85 L387.06 189.36 L387.34 187.88 L387.64 186.40 L387.95 184.92 L388.28 183.45 L388.62 181.98 L388.99 180.51 L389.37 179.05 L389.77 177.60 L390.20 176.15 L390.67 174.72 L391.18 173.30 L391.75 171.90 L392.38 170.53 L393.08 169.19 L393.86 167.90 L394.73 166.67 L395.70 165.51 L396.75 164.43 L397.88 163.43 L399.07 162.50 L400.30 161.63 L401.56 160.81 L402.85 160.01 L404.15 159.25 L405.46 158.51 L406.79 157.79 L408.13 157.09 L409.48 156.41 L410.84 155.76 L412.21 155.12 L413.59 154.51 L414.97 153.92 L416.37 153.35 L417.78 152.80 L419.19 152.27 L420.61 151.76 L422.04 151.27 L423.47 150.80 L424.91 150.34 L426.35 149.90 L427.80 149.48 L429.25 149.08 L430.71 148.69 L432.17 148.32 L433.64 147.96 L435.11 147.61 L436.58 147.28 L438.06 146.96 L439.54 146.66 L441.02 146.37 L442.50 146.09 L443.98 145.82 L445.47 145.56 L446.96 145.31 L448.45 145.07 L449.94 144.83 L451.43 144.61 L452.92 144.39 L454.42 144.19 L455.91 143.99 L457.41 143.79 L458.91 143.60 L460.41 143.42 L461.90 143.24 L463.40 143.06 L464.90 142.89 L466.40 142.72 L467.90 142.56 L469.40 142.39 L470.90 142.23 L472.40 142.07 L473.90 141.91 L475.41 141.76 L476.91 141.61 L478.41 141.45 L479.91 141.30 L481.41 141.15 L482.91 141.01 L484.41 140.86 L485.92 140.72 L487.42 140.58 L488.92 140.44 L490.42 140.30 L491.93 140.17 L493.43 140.03 L494.93 139.90 L496.44 139.77 L497.94 139.64 L499.44 139.51 L500.95 139.38 L502.45 139.26 L503.96 139.14 L505.46 139.01 L506.96 138.89 L508.47 138.77 L509.97 138.66 L511.48 138.54 L512.98 138.43 L514.49 138.31 L515.99 138.20 L517.50 138.09 L519.00 137.98 L520.51 137.88 L522.01 137.77 L523.52 137.67 L525.02 137.56 L526.53 137.46 L528.04 137.36 L529.54 137.26 L531.05 137.16 L532.55 137.06 L534.06 136.97 L535.56 136.87 L537.07 136.78 L538.58 136.69 L540.08 136.59 L541.59 136.50 L543.10 136.41 L544.60 136.33 L546.11 136.24 L547.62 136.15 L549.12 136.07 L550.63 135.98 L552.14 135.90 L553.64 135.82 L555.15 135.73 L556.66 135.65 L558.16 135.57 L559.67 135.49 L561.18 135.42 L562.68 135.34 L564.19 135.26 L565.70 135.19 L567.21 135.11 L568.71 135.04 L570.22 134.96 L571.73 134.89 L573.23 134.82 L574.74 134.74 L576.25 134.67 L577.76 134.60 L579.26 134.53 L580.77 134.46 L582.28 134.39 L583.79 134.32 L585.29 134.26 L586.80 134.19 L588.31 134.12 L589.82 134.05 L591.32 133.99 L592.83 133.92 L594.34 133.86 L595.85 133.79 L597.35 133.73 L598.86 133.66 L600.37 133.60 L601.88 133.53 L603.39 133.47 L604.89 133.41 L606.40 133.34 L607.91 133.28 L609.42 133.22 L610.92 133.15 L612.43 133.09 L613.94 133.03 L615.45 132.97 L616.95 132.90 L618.46 132.84 L619.97 132.78 L621.48 132.72 L622.99 132.65 L624.49 132.59 L626.00 132.53 L627.51 132.47 L629.02 132.40 L630.52 132.34 L632.03 132.28 L633.54 132.21 L635.05 132.15 L636.56 132.09 L638.06 132.02 L639.57 131.96 L641.08 131.90 L642.59 131.83 L644.09 131.77 L645.60 131.70" fill="none" stroke="#1c1cd2" stroke-width="1.3" stroke-linejoin="round" stroke-linecap="butt"/>
<path d="M384.30 297.80 L384.35 296.29 L384.39 294.79 L384.43 293.28 L384.47 291.77 L384.51 290.26 L384.54 288.76 L384.57 287.25 L384.61 285.74 L384.63 284.23 L384.66 282.73 L384.68 281.22 L384.71 279.71 L384.73 278.20 L384.75 276.69 L384.76 275.19 L384.78 273.68 L384.79 272.17 L384.81 270.66 L384.82 269.15 L384.83 267.65 L384.84 266.14 L384.84 264.63 L384.85 263.12 L384.85 261.61 L384.86 260.11 L384.86 258.60 L384.86 257.09 L384.86 255.58 L384.86 254.08 L384.86 252.57 L384.86 251.06 L384.86 249.55 L384.85 248.04 L384.85 246.54 L384.84 245.03 L384.84 243.52 L384.83 242.01 L384.83 240.50 L384.82 239.00 L384.82 237.49 L384.81 235.98 L384.80 234.47 L384.80 232.96 L384.79 231.46 L384.78 229.95 L384.78 228.44 L384.77 226.93 L384.76 225.42 L384.76 223.92 L384.75 222.41 L384.75 220.90 L384.74 219.39 L384.74 217.88 L384.74 216.38 L384.73 214.87 L384.73 213.36 L384.73 211.85 L384.73 210.34 L384.73 208.84 L384.73 207.33 L384.74 205.82 L384.74 204.31 L384.75 202.80 L384.75 201.30 L384.76 199.79 L384.77 198.28 L384.78 196.77 L384.79 195.26 L384.80 193.76 L384.82 192.25 L384.84 190.74 L384.85 189.23 L384.87 187.73 L384.90 186.22 L384.92 184.71 L384.95 183.20 L384.97 181.69 L385.00 180.19 L385.03 178.68 L385.07 177.17 L385.10 175.66 L385.14 174.16 L385.18 172.65 L385.23 171.14 L385.27 169.63 L385.32 168.13 L385.37 166.62 L385.42 165.11 L385.48 163.61 L385.54 162.10 L385.60 160.59 L385.66 159.09 L385.73 157.58 L385.80 156.07 L385.87 154.57 L385.95 153.06 L386.03 151.56 L386.11 150.05 L386.20 148.54 L386.29 147.04 L386.38 145.53 L386.47 144.03 L386.57 142.52 L386.68 141.02 L386.78 139.52 L386.89 138.01 L387.00 136.51 L387.12 135.00 L387.24 133.50 L387.37 132.00 L387.49 130.50 L387.63 128.99 L387.76 127.49 L387.90 125.99 L388.05 124.49 L388.19 122.99 L388.35 121.49 L388.50 119.99 L388.67 118.49 L388.84 116.99 L389.04 115.50 L389.25 114.00 L389.48 112.51 L389.75 111.03 L390.04 109.55 L390.37 108.08 L390.74 106.62 L391.16 105.17 L391.63 103.73 L392.15 102.32 L392.73 100.93 L393.37 99.57 L394.08 98.24 L394.86 96.94 L395.71 95.70 L396.63 94.50 L397.61 93.36 L398.66 92.27 L399.76 91.24 L400.91 90.27 L402.11 89.36 L403.36 88.51 L404.65 87.73 L405.98 87.02 L407.34 86.38 L408.74 85.82 L410.17 85.32 L411.61 84.88 L413.06 84.49 L414.53 84.13 L416.00 83.79 L417.47 83.46 L418.95 83.15 L420.42 82.84 L421.90 82.55 L423.38 82.26 L424.86 81.98 L426.35 81.72 L427.83 81.46 L429.32 81.21 L430.81 80.96 L432.30 80.73 L433.79 80.50 L435.28 80.28 L436.77 80.07 L438.27 79.87 L439.76 79.67 L441.26 79.48 L442.76 79.30 L444.25 79.12 L445.75 78.94 L447.25 78.78 L448.75 78.62 L450.25 78.46 L451.75 78.31 L453.25 78.16 L454.75 78.02 L456.25 77.88 L457.76 77.75 L459.26 77.62 L460.76 77.49 L462.26 77.37 L463.77 77.25 L465.27 77.13 L466.77 77.01 L468.28 76.90 L469.78 76.79 L471.28 76.68 L472.79 76.57 L474.29 76.46 L475.80 76.36 L477.30 76.25 L478.81 76.15 L480.31 76.04 L481.81 75.94 L483.32 75.83 L484.82 75.72 L486.33 75.62 L487.83 75.51 L489.34 75.41 L490.84 75.30 L492.34 75.20 L493.85 75.09 L495.35 74.99 L496.86 74.88 L498.36 74.78 L499.87 74.68 L501.37 74.58 L502.87 74.48 L504.38 74.37 L505.88 74.28 L507.39 74.18 L508.89 74.08 L510.40 73.98 L511.90 73.89 L513.41 73.79 L514.91 73.70 L516.42 73.61 L517.92 73.52 L519.43 73.43 L520.94 73.35 L522.44 73.26 L523.95 73.18 L525.45 73.10 L526.96 73.02 L528.46 72.94 L529.97 72.86 L531.48 72.79 L532.98 72.72 L534.49 72.65 L536.00 72.58 L537.50 72.51 L539.01 72.44 L540.51 72.38 L542.02 72.32 L543.53 72.25 L545.03 72.19 L546.54 72.13 L548.05 72.07 L549.56 72.02 L551.06 71.96 L552.57 71.91 L554.08 71.85 L555.58 71.80 L557.09 71.75 L558.60 71.69 L560.10 71.64 L561.61 71.59 L563.12 71.54 L564.63 71.50 L566.13 71.45 L567.64 71.40 L569.15 71.35 L570.65 71.31 L572.16 71.26 L573.67 71.22 L575.18 71.17 L576.68 71.13 L578.19 71.08 L579.70 71.04 L581.21 70.99 L582.71 70.95 L584.22 70.90 L585.73 70.86 L587.24 70.82 L588.74 70.77 L590.25 70.73 L591.76 70.69 L593.26 70.64 L594.77 70.60 L596.28 70.55 L597.79 70.51 L599.29 70.46 L600.80 70.41 L602.31 70.37 L603.82 70.32 L605.32 70.27 L606.83 70.23 L608.34 70.18 L609.84 70.13 L611.35 70.08 L612.86 70.03 L614.37 69.97 L615.87 69.92 L617.38 69.87 L618.89 69.81 L620.39 69.76 L621.90 69.70" fill="none" stroke="#d8161d" stroke-width="1.3" stroke-linejoin="round" stroke-linecap="butt"/>
<path d="M384.30 297.80 L384.31 296.29 L384.33 294.79 L384.34 293.28 L384.36 291.77 L384.37 290.26 L384.39 288.76 L384.41 287.25 L384.42 285.74 L384.44 284.24 L384.46 282.73 L384.49 281.22 L384.51 279.71 L384.53 278.21 L384.56 276.70 L384.59 275.19 L384.61 273.69 L384.64 272.18 L384.67 270.67 L384.71 269.16 L384.74 267.66 L384.78 266.15 L384.82 264.64 L384.86 263.14 L384.90 261.63 L384.94 260.12 L384.99 258.62 L385.03 257.11 L385.08 255.60 L385.14 254.10 L385.19 252.59 L385.25 251.09 L385.30 249.58 L385.36 248.07 L385.43 246.57 L385.49 245.06 L385.56 243.56 L385.63 242.05 L385.71 240.55 L385.78 239.04 L385.86 237.53 L385.95 236.03 L386.03 234.52 L386.12 233.02 L386.21 231.52 L386.30 230.01 L386.40 228.51 L386.50 227.00 L386.60 225.50 L386.71 224.00 L386.82 222.49 L386.93 220.99 L387.05 219.49 L387.17 217.98 L387.30 216.48 L387.42 214.98 L387.56 213.48 L387.69 211.98 L387.83 210.48 L387.97 208.98 L388.12 207.48 L388.27 205.98 L388.43 204.48 L388.59 202.98 L388.75 201.48 L388.92 199.98 L389.09 198.48 L389.26 196.99 L389.44 195.49 L389.63 194.00 L389.82 192.50 L390.01 191.01 L390.21 189.51 L390.41 188.02 L390.62 186.52 L390.83 185.03 L391.04 183.54 L391.26 182.05 L391.48 180.56 L391.70 179.07 L391.93 177.58 L392.16 176.09 L392.39 174.60 L392.63 173.11 L392.86 171.62 L393.10 170.13 L393.34 168.64 L393.59 167.16 L393.83 165.67 L394.08 164.18 L394.32 162.70 L394.58 161.21 L394.83 159.72 L395.10 158.24 L395.37 156.76 L395.66 155.28 L395.95 153.80 L396.26 152.32 L396.58 150.85 L396.92 149.38 L397.27 147.92 L397.65 146.46 L398.04 145.00 L398.45 143.55 L398.88 142.11 L399.34 140.67 L399.81 139.24 L400.30 137.81 L400.81 136.40 L401.34 134.99 L401.89 133.58 L402.46 132.19 L403.05 130.80 L403.66 129.42 L404.29 128.05 L404.93 126.69 L405.60 125.34 L406.28 123.99 L406.99 122.66 L407.71 121.34 L408.45 120.03 L409.21 118.72 L409.99 117.44 L410.79 116.16 L411.61 114.89 L412.45 113.64 L413.30 112.40 L414.18 111.17 L415.07 109.96 L415.98 108.76 L416.91 107.57 L417.86 106.40 L418.83 105.24 L419.82 104.10 L420.82 102.98 L421.85 101.87 L422.89 100.78 L423.95 99.71 L425.03 98.66 L426.12 97.62 L427.23 96.61 L428.37 95.61 L429.51 94.64 L430.68 93.68 L431.86 92.75 L433.06 91.84 L434.28 90.95 L435.51 90.08 L436.76 89.23 L438.03 88.41 L439.31 87.62 L440.60 86.85 L441.91 86.10 L443.23 85.37 L444.57 84.67 L445.91 83.99 L447.27 83.34 L448.63 82.70 L450.01 82.08 L451.39 81.49 L452.79 80.91 L454.19 80.36 L455.60 79.82 L457.01 79.30 L458.43 78.79 L459.86 78.30 L461.29 77.83 L462.72 77.38 L464.17 76.93 L465.61 76.51 L467.06 76.09 L468.51 75.69 L469.97 75.30 L471.43 74.92 L472.89 74.55 L474.35 74.20 L475.82 73.85 L477.29 73.51 L478.76 73.19 L480.23 72.87 L481.71 72.56 L483.18 72.25 L484.66 71.95 L486.14 71.66 L487.62 71.38 L489.10 71.10 L490.58 70.82 L492.07 70.55 L493.55 70.28 L495.03 70.01 L496.52 69.75 L498.00 69.49 L499.49 69.23 L500.97 68.98 L502.46 68.72 L503.94 68.47 L505.43 68.21 L506.92 67.96 L508.40 67.71 L509.89 67.47 L511.38 67.22 L512.86 66.98 L514.35 66.74 L515.84 66.50 L517.33 66.27 L518.82 66.04 L520.31 65.81 L521.80 65.58 L523.29 65.36 L524.78 65.14 L526.27 64.93 L527.77 64.71 L529.26 64.51 L530.75 64.30 L532.25 64.10 L533.74 63.90 L535.24 63.71 L536.73 63.53 L538.23 63.34 L539.72 63.16 L541.22 62.99 L542.72 62.82 L544.22 62.65 L545.72 62.49 L547.21 62.34 L548.71 62.18 L550.21 62.04 L551.71 61.89 L553.21 61.75 L554.72 61.62 L556.22 61.48 L557.72 61.36 L559.22 61.23 L560.72 61.11 L562.23 60.99 L563.73 60.87 L565.23 60.76 L566.74 60.65 L568.24 60.54 L569.74 60.44 L571.25 60.34 L572.75 60.24 L574.25 60.14 L575.76 60.05 L577.26 59.96 L578.77 59.87 L580.27 59.78 L581.78 59.69 L583.28 59.61 L584.79 59.53 L586.29 59.45 L587.80 59.37 L589.30 59.29 L590.81 59.21 L592.31 59.14 L593.82 59.07 L595.32 58.99 L596.83 58.92 L598.34 58.85 L599.84 58.78 L601.35 58.71 L602.85 58.65 L604.36 58.58 L605.86 58.51 L607.37 58.44 L608.88 58.38 L610.38 58.31 L611.89 58.25 L613.39 58.18 L614.90 58.11 L616.41 58.05 L617.91 57.98 L619.42 57.91 L620.92 57.85 L622.43 57.78 L623.93 57.71 L625.44 57.64 L626.95 57.57 L628.45 57.50 L629.96 57.43 L631.46 57.35 L632.97 57.28 L634.47 57.20 L635.98 57.13 L637.48 57.05 L638.99 56.97 L640.49 56.88 L642.00 56.80" fill="none" stroke="#177317" stroke-width="1.3" stroke-linejoin="round" stroke-linecap="butt"/>
<path d="M384.29 297.80 L384.42 296.29 L384.60 294.78 L384.82 293.28 L385.08 291.78 L385.38 290.30 L385.72 288.82 L386.11 287.35 L386.53 285.89 L387.00 284.45 L387.50 283.02 L388.04 281.60 L388.62 280.20 L389.24 278.81 L389.89 277.44 L390.57 276.08 L391.29 274.74 L392.03 273.42 L392.81 272.12 L393.62 270.83 L394.45 269.57 L395.32 268.32 L396.20 267.08 L397.12 265.87 L398.05 264.68 L399.01 263.50 L399.99 262.34 L400.99 261.20 L402.01 260.07 L403.04 258.96 L404.10 257.87 L405.17 256.79 L406.25 255.73 L407.36 254.69 L408.47 253.66 L409.60 252.65 L410.75 251.65 L411.91 250.67 L413.08 249.70 L414.26 248.75 L415.45 247.81 L416.65 246.89 L417.87 245.98 L419.10 245.08 L420.33 244.20 L421.58 243.33 L422.83 242.48 L424.10 241.64 L425.37 240.81 L426.65 240.00 L427.94 239.20 L429.24 238.41 L430.54 237.63 L431.85 236.87 L433.17 236.12 L434.50 235.38 L435.83 234.65 L437.17 233.93 L438.51 233.22 L439.86 232.53 L441.21 231.84 L442.57 231.17 L443.94 230.50 L445.31 229.85 L446.68 229.20 L448.06 228.57 L449.44 227.94 L450.83 227.32 L452.22 226.71 L453.61 226.11 L455.01 225.52 L456.41 224.94 L457.82 224.36 L459.22 223.79 L460.63 223.23 L462.05 222.68 L463.46 222.13 L464.88 221.59 L466.30 221.06 L467.73 220.53 L469.15 220.02 L470.58 219.51 L472.02 219.00 L473.45 218.51 L474.89 218.02 L476.33 217.53 L477.77 217.06 L479.21 216.59 L480.66 216.13 L482.11 215.67 L483.56 215.22 L485.01 214.78 L486.46 214.34 L487.92 213.91 L489.38 213.49 L490.84 213.08 L492.30 212.67 L493.76 212.26 L495.23 211.86 L496.69 211.47 L498.16 211.09 L499.63 210.71 L501.10 210.33 L502.57 209.96 L504.05 209.60 L505.52 209.24 L507.00 208.89 L508.48 208.55 L509.96 208.21 L511.44 207.87 L512.92 207.54 L514.40 207.22 L515.89 206.90 L517.37 206.59 L518.86 206.28 L520.34 205.97 L521.83 205.67 L523.32 205.38 L524.81 205.09 L526.30 204.81 L527.79 204.52 L529.29 204.25 L530.78 203.98 L532.28 203.71 L533.77 203.45 L535.27 203.19 L536.76 202.93 L538.26 202.68 L539.76 202.44 L541.26 202.19 L542.75 201.96 L544.25 201.72 L545.75 201.49 L547.26 201.26 L548.76 201.04 L550.26 200.82 L551.76 200.60 L553.26 200.38 L554.77 200.17 L556.27 199.96 L557.77 199.76 L559.28 199.56 L560.78 199.36 L562.29 199.16 L563.79 198.97 L565.30 198.78 L566.81 198.59 L568.31 198.40 L569.82 198.22 L571.33 198.04 L572.83 197.86 L574.34 197.68 L575.85 197.51 L577.36 197.33 L578.87 197.16 L580.37 196.99 L581.88 196.83 L583.39 196.66 L584.90 196.50" fill="none" stroke="#ffb70f" stroke-width="1.3" stroke-linejoin="round" stroke-linecap="butt"/>
<path d="M384.29 297.80 L384.34 296.29 L384.38 294.78 L384.43 293.28 L384.47 291.77 L384.52 290.26 L384.58 288.76 L384.63 287.25 L384.69 285.75 L384.75 284.24 L384.81 282.73 L384.87 281.23 L384.94 279.72 L385.01 278.22 L385.08 276.71 L385.16 275.21 L385.24 273.70 L385.32 272.20 L385.41 270.69 L385.50 269.19 L385.59 267.68 L385.68 266.18 L385.78 264.68 L385.89 263.17 L386.00 261.67 L386.11 260.17 L386.22 258.67 L386.34 257.16 L386.47 255.66 L386.60 254.16 L386.73 252.66 L386.87 251.16 L387.01 249.66 L387.16 248.16 L387.31 246.66 L387.46 245.16 L387.63 243.66 L387.79 242.16 L387.97 240.67 L388.14 239.17 L388.33 237.67 L388.52 236.18 L388.71 234.68 L388.91 233.19 L389.12 231.70 L389.33 230.21 L389.55 228.72 L389.77 227.23 L390.01 225.74 L390.24 224.25 L390.49 222.76 L390.74 221.27 L391.00 219.79 L391.26 218.31 L391.53 216.82 L391.81 215.34 L392.09 213.86 L392.39 212.38 L392.69 210.91 L392.99 209.43 L393.31 207.96 L393.63 206.49 L393.96 205.02 L394.30 203.55 L394.65 202.08 L395.00 200.62 L395.37 199.15 L395.74 197.69 L396.12 196.24 L396.50 194.78 L396.90 193.33 L397.31 191.87 L397.72 190.42 L398.14 188.98 L398.58 187.53 L399.02 186.09 L399.47 184.66 L399.93 183.22 L400.40 181.79 L400.88 180.36 L401.37 178.93 L401.86 177.51 L402.37 176.09 L402.89 174.68 L403.42 173.27 L403.96 171.86 L404.51 170.46 L405.06 169.06 L405.63 167.66 L406.21 166.27 L406.80 164.88 L407.40 163.50 L408.01 162.12 L408.63 160.75 L409.26 159.38 L409.91 158.02 L410.56 156.66 L411.23 155.31 L411.90 153.96 L412.59 152.62 L413.28 151.28 L413.99 149.95 L414.71 148.63 L415.44 147.31 L416.18 146.00 L416.94 144.69 L417.70 143.39 L418.48 142.10 L419.26 140.82 L420.06 139.54 L420.87 138.27 L421.69 137.00 L422.53 135.75 L423.37 134.50 L424.23 133.26 L425.10 132.03 L425.98 130.81 L426.88 129.60 L427.78 128.39 L428.70 127.20 L429.63 126.01 L430.57 124.83 L431.52 123.67 L432.49 122.51 L433.47 121.36 L434.46 120.23 L435.46 119.10 L436.48 117.99 L437.51 116.89 L438.55 115.80 L439.60 114.72 L440.66 113.65 L441.74 112.60 L442.83 111.56 L443.93 110.53 L445.05 109.52 L446.17 108.52 L447.31 107.53 L448.46 106.55 L449.62 105.59 L450.80 104.65 L451.98 103.71 L453.17 102.79 L454.38 101.89 L455.59 100.99 L456.81 100.11 L458.05 99.25 L459.29 98.39 L460.54 97.55 L461.80 96.73 L463.07 95.91 L464.35 95.11 L465.63 94.33 L466.92 93.55 L468.22 92.79 L469.53 92.04 L470.85 91.31 L472.17 90.58 L473.50 89.87 L474.83 89.18 L476.18 88.49 L477.53 87.82 L478.88 87.16 L480.24 86.51 L481.61 85.87 L482.98 85.25 L484.35 84.63 L485.74 84.03 L487.12 83.45 L488.52 82.87 L489.91 82.30 L491.31 81.75 L492.72 81.21 L494.13 80.67 L495.54 80.15 L496.96 79.64 L498.39 79.15 L499.81 78.66 L501.24 78.18 L502.67 77.72 L504.11 77.26 L505.55 76.82 L506.99 76.39 L508.44 75.96 L509.89 75.55 L511.34 75.15 L512.80 74.76 L514.26 74.37 L515.72 74.00 L517.18 73.64 L518.64 73.29 L520.11 72.94 L521.58 72.61 L523.05 72.28 L524.52 71.96 L526.00 71.65 L527.48 71.35 L528.95 71.06 L530.43 70.78 L531.92 70.50 L533.40 70.23 L534.88 69.97 L536.37 69.72 L537.85 69.47 L539.34 69.23 L540.83 68.99 L542.32 68.77 L543.81 68.54 L545.30 68.33 L546.80 68.12 L548.29 67.92 L549.78 67.72 L551.28 67.52 L552.77 67.34 L554.27 67.15 L555.76 66.98 L557.26 66.80 L558.76 66.63 L560.26 66.47 L561.76 66.31 L563.25 66.15 L564.75 65.99 L566.25 65.84 L567.75 65.70 L569.25 65.55 L570.75 65.41 L572.25 65.27 L573.75 65.14 L575.26 65.00 L576.76 64.87 L578.26 64.74 L579.76 64.61 L581.26 64.48 L582.76 64.36 L584.27 64.23 L585.77 64.11 L587.27 63.99 L588.77 63.87 L590.27 63.74 L591.78 63.62 L593.28 63.50 L594.78 63.38 L596.28 63.26 L597.78 63.13 L599.29 63.01 L600.79 62.88 L602.29 62.76 L603.79 62.63 L605.29 62.50 L606.79 62.37 L608.29 62.24 L609.79 62.10" fill="none" stroke="#951a1e" stroke-width="1.3" stroke-linejoin="round" stroke-linecap="butt"/>
<text x="645.80" y="58.50" class="lb" fill="#177317" stroke="#177317" stroke-width="0.12">XA</text>
<text x="613.70" y="63.70" class="lb" fill="#951a1e" stroke="#951a1e" stroke-width="0.12">YL</text>
<text x="606.80" y="70.90" class="lb" fill="#141414" stroke="#141414" stroke-width="0.12">KEL</text>
<text x="624.90" y="71.00" class="lb" fill="#d8161d" stroke="#d8161d" stroke-width="0.12">WS</text>
<text x="649.00" y="132.90" class="lb" fill="#1c1cd2" stroke="#1c1cd2" stroke-width="0.12">KS</text>
<text x="588.60" y="197.60" class="lb" fill="#ffb70f" stroke="#ffb70f" stroke-width="0.12">YA</text>
<text transform="translate(528.00,338.3) scale(1,1.1)" text-anchor="middle" class="ti">Number of Reads Sampled</text>
<text transform="translate(528.00,345.7) scale(1,1.1)" text-anchor="middle" class="ti">label: 0.97</text>
<text transform="translate(350.30,167.30) rotate(-90) scale(1,1.15)" text-anchor="middle" class="ti">Rarefaction Measure:rarefaction</text>
</svg>
</body></html>
